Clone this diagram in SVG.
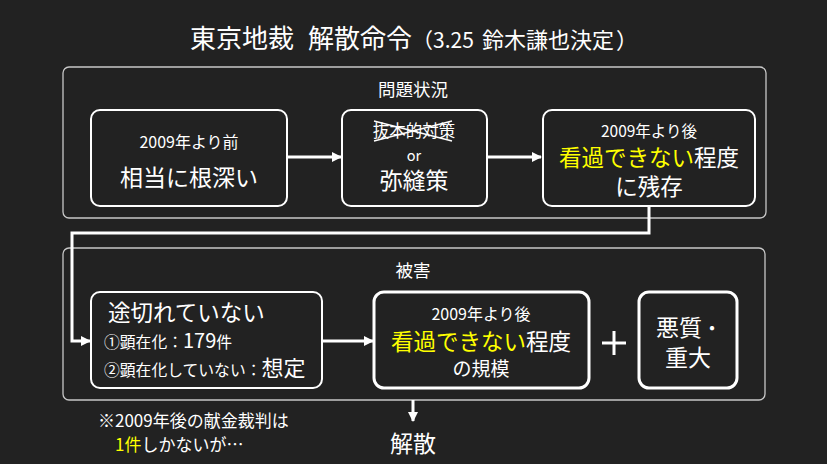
<svg xmlns="http://www.w3.org/2000/svg" width="827" height="464" viewBox="0 0 827 464">
<style>
text{font-family:"Noto Sans CJK JP","Noto Sans",sans-serif;fill:#ffffff}
.c{text-anchor:middle}
.y{fill:#ffff00}
.frame{fill:none;stroke:#c8c8c8;stroke-width:1.3}
.box{fill:#222222;stroke:#ffffff;stroke-width:2}
.bold{fill:#222222;stroke:#ffffff;stroke-width:3}
.conn{fill:none;stroke:#ffffff;stroke-width:3}
</style>
<defs>
<marker id="ah" viewBox="0 0 10 10" refX="9" refY="5" markerWidth="10" markerHeight="10" markerUnits="userSpaceOnUse" orient="auto">
<path d="M0,0 L10,5 L0,10 z" fill="#ffffff"/>
</marker>
</defs>
<rect width="827" height="464" fill="#222222"/>
<g id="title">
<text y="48" font-size="26"><tspan x="190">東京地裁</tspan><tspan x="308">解散命令</tspan><tspan x="412" font-size="21">（3.25</tspan><tspan x="482" font-size="22">鈴木謙也決定</tspan><tspan x="616" font-size="22">）</tspan></text>
</g>
<g id="problem">
<rect class="frame" x="63" y="67" width="703" height="151" rx="6"/>
<text class="c" x="413" y="95.5" font-size="17.5">問題状況</text>
</g>
<g id="damage">
<rect class="frame" x="63" y="248" width="702" height="152" rx="6"/>
<text class="c" x="413" y="277" font-size="17.5">被害</text>
</g>
<g id="connectors">
<line class="conn" x1="287" y1="157" x2="341" y2="157" marker-end="url(#ah)"/>
<line class="conn" x1="487" y1="157" x2="541" y2="157" marker-end="url(#ah)"/>
<path class="conn" d="M649,207 V233 H72 V341 H90" marker-end="url(#ah)"/>
<line class="conn" x1="322" y1="341" x2="373" y2="341" marker-end="url(#ah)"/>
<line class="conn" x1="413" y1="400" x2="413" y2="421" marker-end="url(#ah)"/>
</g>
<g id="before2009">
<rect class="box" x="91" y="110" width="196" height="96" rx="9"/>
<text class="c" x="189" y="148" font-size="16">2009年より前</text>
<text class="c" x="189" y="186" font-size="23">相当に根深い</text>
</g>
<g id="measures">
<rect class="box" x="342" y="110" width="145" height="96" rx="9"/>
<text class="c" x="414" y="137" font-size="16.5">抜本的対策</text>
<line x1="374" y1="121" x2="452" y2="141" stroke="#ffffff" stroke-width="1.3"/>
<line x1="374" y1="141" x2="452" y2="121" stroke="#ffffff" stroke-width="1.3"/>
<text class="c" x="414" y="161" font-size="14.5">or</text>
<text class="c" x="414" y="189" font-size="23">弥縫策</text>
</g>
<g id="after2009">
<rect class="box" x="543" y="110" width="212" height="96" rx="9"/>
<text class="c" x="649" y="137" font-size="15.5">2009年より後</text>
<text class="c" x="649" y="166" font-size="22.5"><tspan class="y">看過できない</tspan>程度</text>
<text class="c" x="649" y="195" font-size="22.5">に残存</text>
</g>
<g id="continuing">
<rect class="box" x="91" y="292" width="231" height="96" rx="9"/>
<text x="108" y="321" font-size="22.5">途切れていない</text>
<text x="104" y="348" font-size="15.8">①顕在化：<tspan font-size="20">179</tspan>件</text>
<text x="104" y="376" font-size="15.8">②顕在化していない：<tspan font-size="22">想定</tspan></text>
</g>
<g id="scale">
<rect class="bold" x="374" y="292" width="215" height="96" rx="10"/>
<text class="c" x="481" y="320" font-size="16">2009年より後</text>
<text class="c" x="481" y="350" font-size="22.5"><tspan class="y">看過できない</tspan>程度</text>
<text class="c" x="481" y="376" font-size="19">の規模</text>
</g>
<g id="plus">
<line x1="602" y1="343" x2="626" y2="343" stroke="#ffffff" stroke-width="3"/>
<line x1="614" y1="331" x2="614" y2="355" stroke="#ffffff" stroke-width="3"/>
</g>
<g id="serious">
<rect class="bold" x="639" y="292" width="98" height="96" rx="10"/>
<text y="336" font-size="23"><tspan x="656">悪質</tspan><tspan x="702" font-size="20">・</tspan></text>
<text class="c" x="688" y="366" font-size="23">重大</text>
</g>
<g id="note">
<text x="98" y="427" font-size="17">※2009年後の献金裁判は</text>
<text x="115" y="451" font-size="17"><tspan class="y">1件</tspan>しかないが…</text>
</g>
<g id="dissolution">
<text class="c" x="413" y="452" font-size="23">解散</text>
</g>
</svg>
